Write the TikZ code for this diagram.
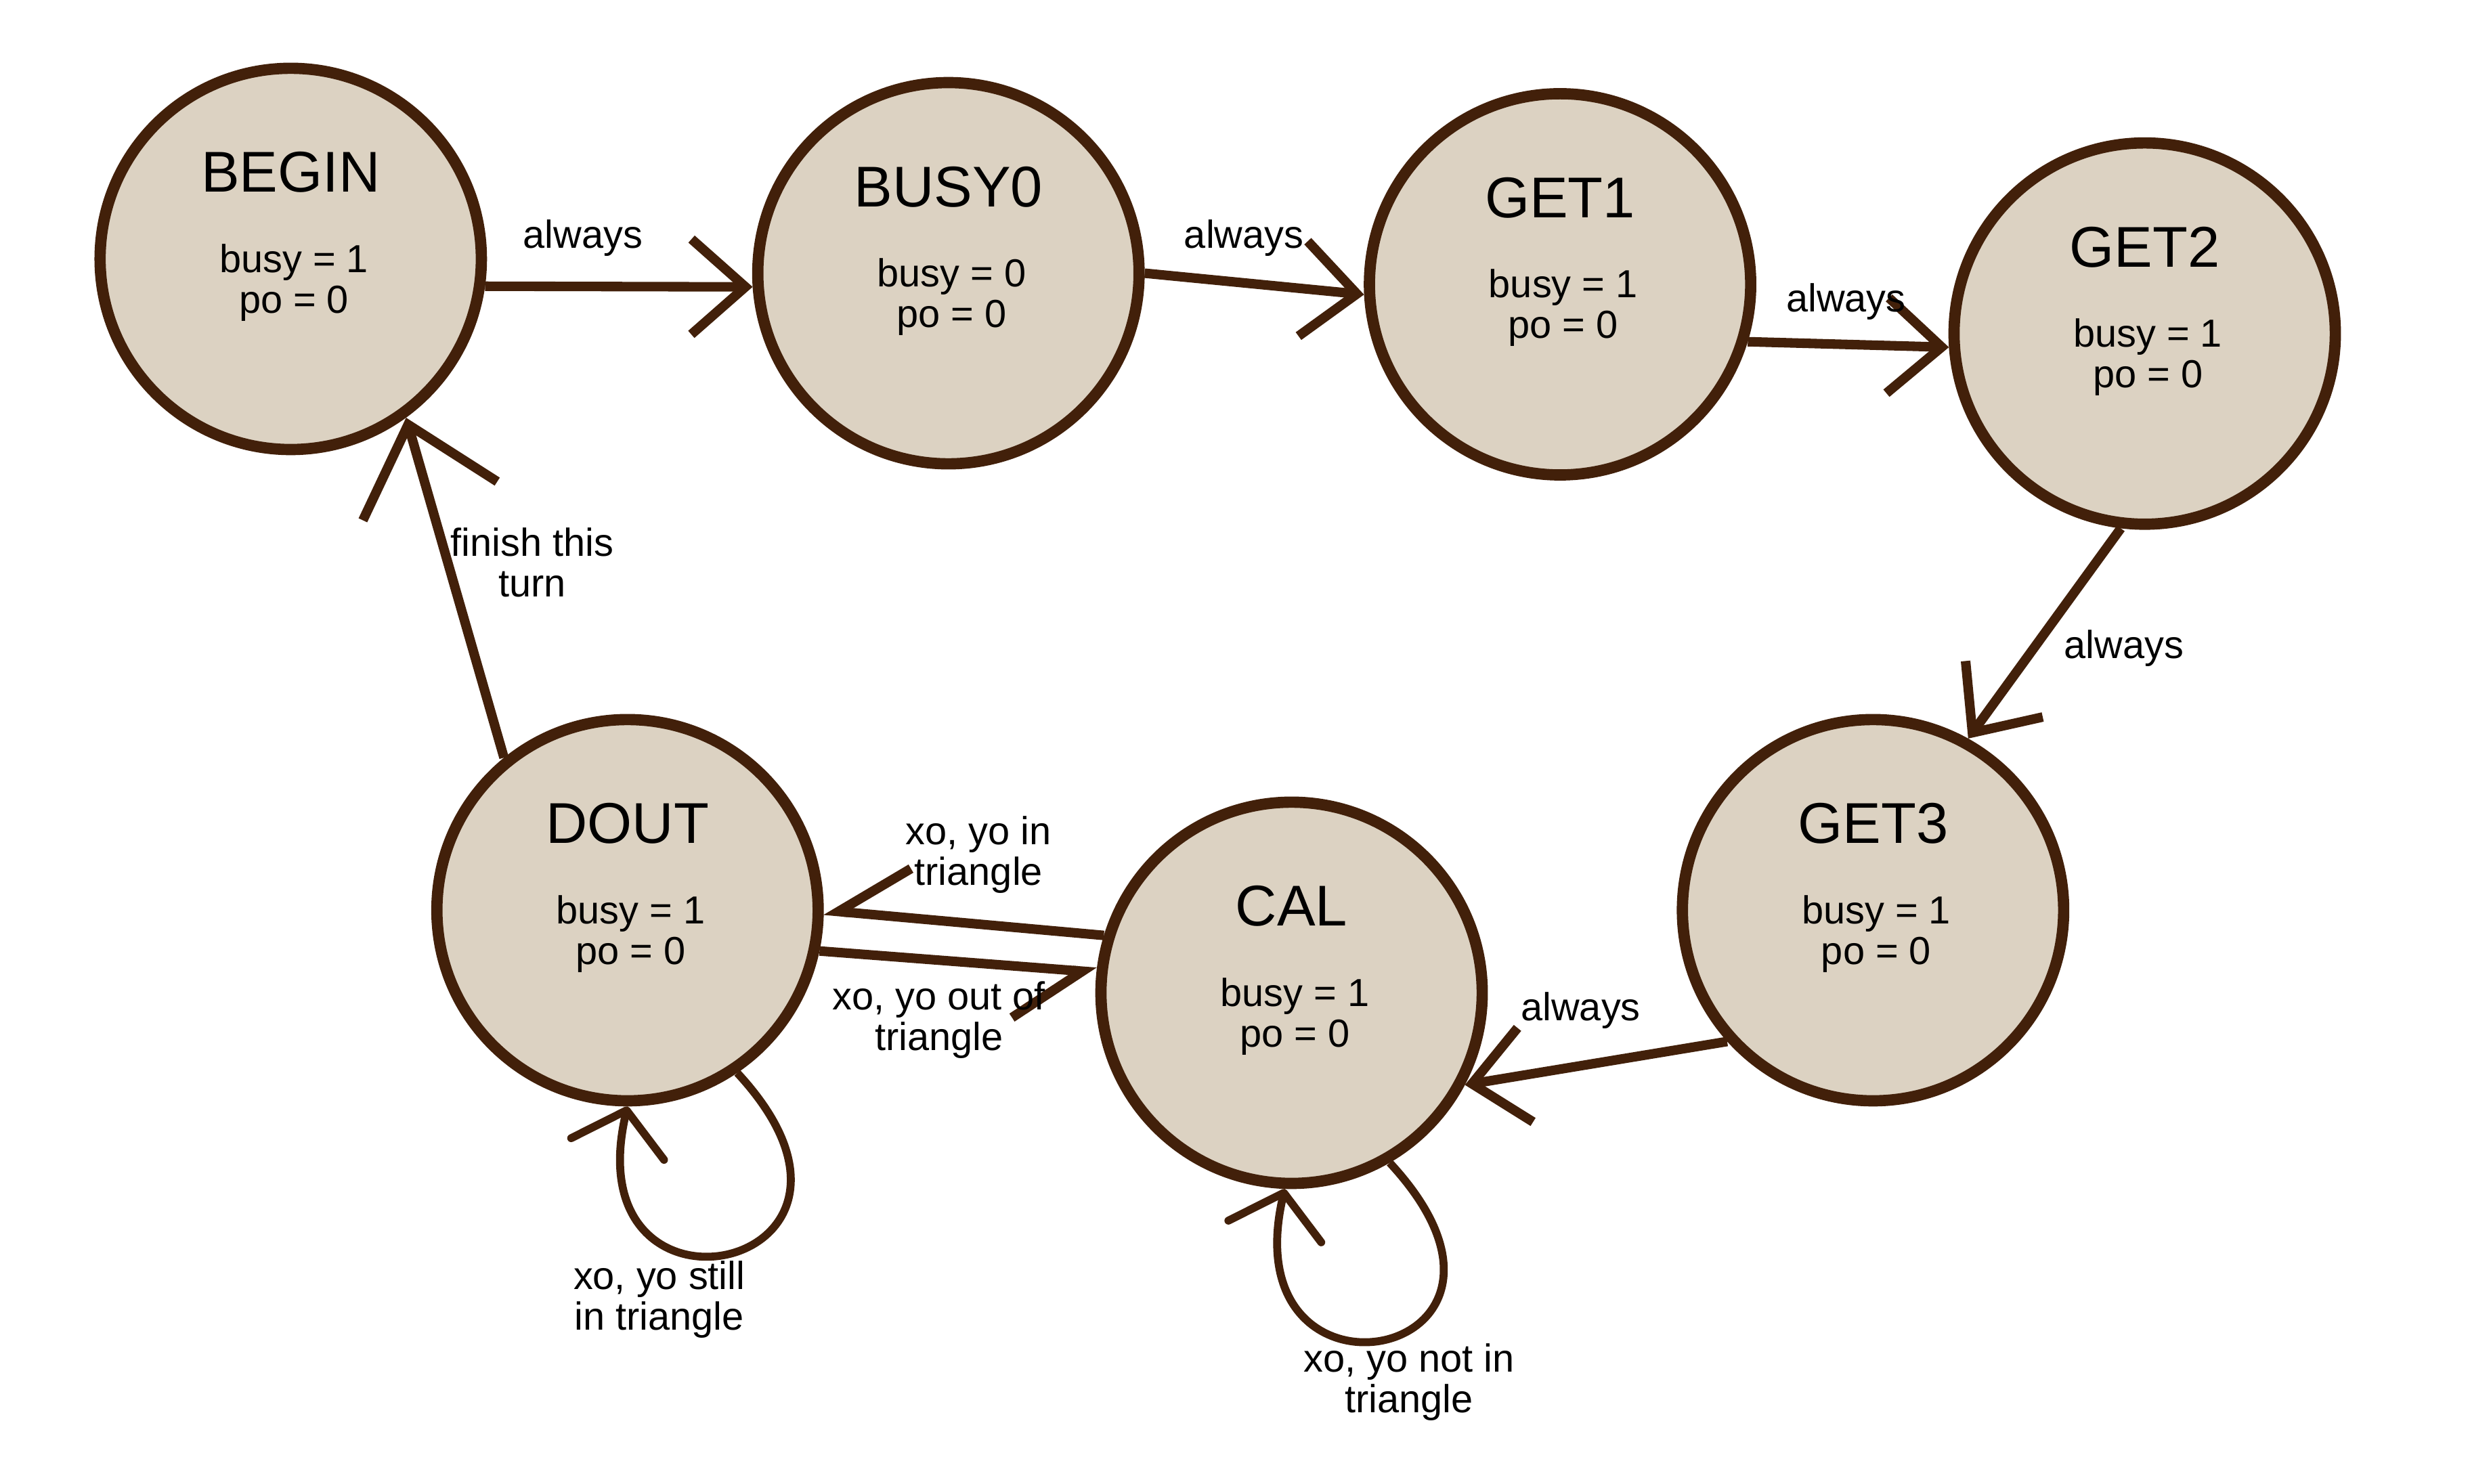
\documentclass[tikz,border=0pt]{standalone}
\usepackage{fontspec}
\setmainfont{Liberation Sans}
\usetikzlibrary{arrows.meta}

\definecolor{statefill}{RGB}{220,210,194}
\definecolor{stateline}{RGB}{66,32,10}

\tikzset{
	state/.style={circle, draw=stateline, fill=statefill, line width=1.42mm, minimum size=48mm, inner sep=0pt},
	statename/.style={font=\fontsize{20.6}{24}\selectfont, anchor=base, inner sep=0pt},
	stateval/.style={font=\fontsize{14}{14.5}\selectfont, align=center, anchor=base, inner sep=0pt},
	lbl/.style={font=\fontsize{14}{14.5}\selectfont, align=center, inner sep=0pt},
	trans/.style={draw=stateline, line width=1.2mm, -{Straight Barb[length=6.8mm, width=12mm]}},
	loopy/.style={draw=stateline, line width=1mm, -{Straight Barb[length=5mm, width=12mm, round]}}
}

\begin{document}
\begin{tikzpicture}[x=0.2mm, y=-0.2mm]
				\useasboundingbox (0,0) rectangle (1568,934);

					\foreach \n/\t/\x/\y/\b in {begin/BEGIN/183/163/1, busy0/BUSY0/597/172/0, get1/GET1/982/179/1, get2/GET2/1350/210/1, get3/GET3/1179/573/1, cal/CAL/813/625/1, dout/DOUT/395/573/1}
					{
						\node[state] (\n) at (\x,\y) {};
						\node[statename] (\n-name) at (\x,\y-42) {\t};
						\node[stateval] (\n-val) at (\x+2,\y+34) {busy = \b\\po = 0};
					}

					\draw[trans] (begin.-8) -- (busy0.184);
					\draw[trans] (busy0.0) -- (get1.183);
					\draw[trans] (get1.-17) -- (get2.184);
					\draw[trans] (get2.263) -- (get3.61);
					\draw[trans] (get3.222) -- (cal.-28);
					\draw[trans, -{Straight Barb[length=8.6mm, width=12.4mm, right]}] (cal.163) -- (dout.0);
					\draw[trans, -{Straight Barb[length=8.4mm, width=13mm, right]}] (dout.-12) -- (cal.174);
					\draw[trans, -{Straight Barb[length=10mm, width=17.6mm]}] (dout.129) -- (begin.306);

					\draw[loopy] (dout.-56) .. controls +(115,124) and +(-35,150) .. (dout.-90);
					\draw[loopy] (cal.-60) .. controls +(115,124) and +(-35,150) .. (cal.-92);

					\node[lbl] (al1) at (367,150) {always};
					\node[lbl] (al2) at (783,150) {always};
					\node[lbl] (al3) at (1162,190) {always};
					\node[lbl] (al4) at (1337,408) {always};
					\node[lbl] (al5) at (995,636) {always};
					\node[lbl] (in-tri) at (616,538) {xo, yo in\\triangle};
					\node[lbl] (out-tri) at (591,642) {xo, yo out of\\triangle};
					\node[lbl] (finish) at (335,354) {finish this\\turn};
					\node[lbl] (still) at (415,818) {xo, yo still\\in triangle};
					\node[lbl] (notin) at (887,870) {xo, yo not in\\triangle};
				\end{tikzpicture}
\end{document}
